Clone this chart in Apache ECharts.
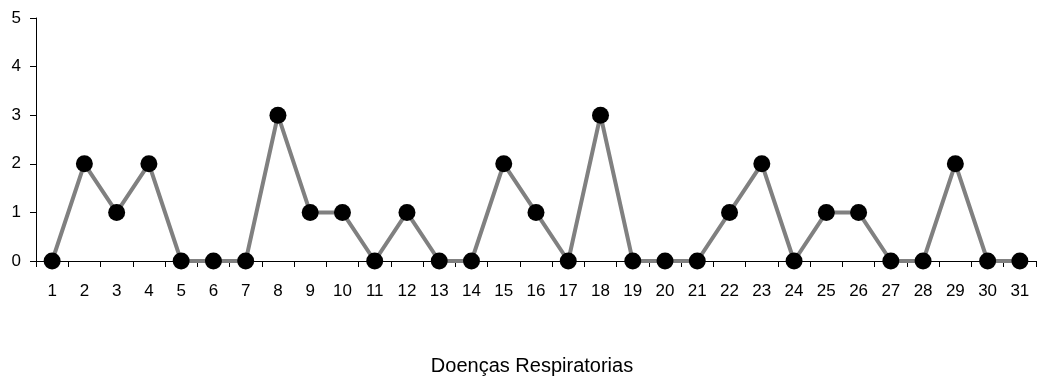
<!DOCTYPE html>
<html><head><meta charset="utf-8">
<script src="https://cdn.jsdelivr.net/npm/echarts@6/dist/echarts.min.js"></script>
<style>html,body{margin:0;padding:0;background:#fff}#c{width:1047px;height:378px}</style>
</head><body><div id="c"></div>
<script>
const categories = ['1','2','3','4','5','6','7','8','9','10','11','12','13','14','15','16','17','18','19','20','21','22','23','24','25','26','27','28','29','30','31'];
const values = [0,2,1,2,0,0,0,3,1,1,0,1,0,0,2,1,0,3,0,0,0,1,2,0,1,1,0,0,2,0,0];
const titleText = 'Doenças Respiratorias';
const chart = echarts.init(document.getElementById('c'), null, {renderer:'canvas'});
const font = 'Liberation Sans, Arial, sans-serif';
chart.setOption({
  animation:false,
  title:{text:titleText,left:527,textAlign:'center',top:351,textStyle:{fontFamily:font,fontSize:20,fontWeight:'normal',color:'#000'}},
  grid:{left:36,right:11,top:18,bottom:117},
  xAxis:{type:'category',data:categories,boundaryGap:true,
    axisLine:{lineStyle:{color:'#000',width:1}},
    axisTick:{show:true,length:6,lineStyle:{color:'#000'}},
    axisLabel:{color:'#000',fontFamily:font,fontSize:17,margin:22}},
  yAxis:{type:'value',min:0,max:5,interval:1,
    axisLine:{show:true,lineStyle:{color:'#000',width:1}},
    axisTick:{show:true,length:6,inside:false,lineStyle:{color:'#000'}},
    splitLine:{show:false},
    axisLabel:{color:'#000',fontFamily:font,fontSize:17,margin:15}},
  series:[{type:'line',data:values,symbol:'circle',symbolSize:17,
    lineStyle:{color:'#808080',width:4},itemStyle:{color:'#000'},z:3}]
});
</script></body></html>
